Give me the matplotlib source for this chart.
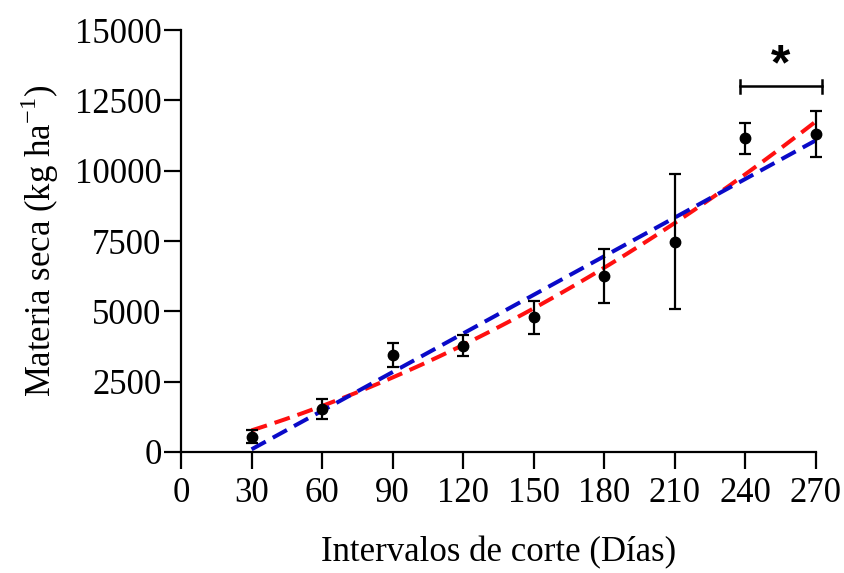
import numpy as np
import matplotlib.pyplot as plt

plt.rcParams['font.family'] = ['Liberation Serif', 'DejaVu Serif']

# Cutting interval (days) vs dry matter (kg/ha), mean +/- SD
dias = [30, 60, 90, 120, 150, 180, 210, 240, 270]
materia_seca = [550, 1530, 3450, 3780, 4790, 6260, 7480, 11150, 11300]
error = [230, 360, 415, 375, 590, 950, 2400, 560, 820]

xticks = [0, 30, 60, 90, 120, 150, 180, 210, 240, 270]
yticks = [0, 2500, 5000, 7500, 10000, 12500, 15000]

# significance bracket between 240 and 270 days
bracket_x = [237.5, 272.5]
bracket_y = 13000
bracket_tick = 230

fig = plt.figure(figsize=(8.44, 5.73), dpi=100)
ax = fig.add_axes([0.2145, 0.2112, 0.7523, 0.7364])

x = np.array(dias, dtype=float)
y = np.array(materia_seca, dtype=float)
xx = np.linspace(x.min(), x.max(), 200)

# quadratic and linear fits
quad = np.polyfit(x, y, 2)
lin = np.polyfit(x, y, 1)
ax.plot(xx, np.polyval(quad, xx), color='#ff1010', lw=2.9,
        linestyle=(0, (4, 2)), zorder=2, clip_on=False)
ax.plot(xx, np.polyval(lin, xx), color='#0a0ac8', lw=2.9,
        linestyle=(0, (4, 2)), zorder=2, clip_on=False)

ax.errorbar(dias, materia_seca, yerr=error, fmt='o', color='black',
            ms=7.5, elinewidth=1.6, capsize=4.2, capthick=1.6,
            zorder=3, clip_on=False)

# bracket + asterisk
ax.plot(bracket_x, [bracket_y, bracket_y], color='black', lw=1.8, clip_on=False)
for bx in bracket_x:
    ax.plot([bx, bx], [bracket_y - bracket_tick, bracket_y + bracket_tick],
            color='black', lw=1.8, clip_on=False)
ax.text(np.mean(bracket_x), 13250, '*', ha='center', va='baseline',
        fontsize=36, fontweight='bold', family='Liberation Sans')

ax.set_xlim(0, 270)
ax.set_ylim(0, 15000)
ax.set_xticks(xticks)
ax.set_yticks(yticks)
ax.tick_params(labelsize=25, width=1.6, length=12, direction='out')
ax.tick_params(axis='x', pad=6)
ax.tick_params(axis='y', pad=2)

for side in ['top', 'right']:
    ax.spines[side].set_visible(False)
for side in ['left', 'bottom']:
    ax.spines[side].set_linewidth(1.6)

ax.set_xlabel('Intervalos de corte (Días)', fontsize=25, labelpad=19)
ax.set_ylabel('Materia seca (kg ha$^{\\mathregular{-1}}$)', fontsize=25, labelpad=10)

fig.savefig('out.png', dpi=100)
